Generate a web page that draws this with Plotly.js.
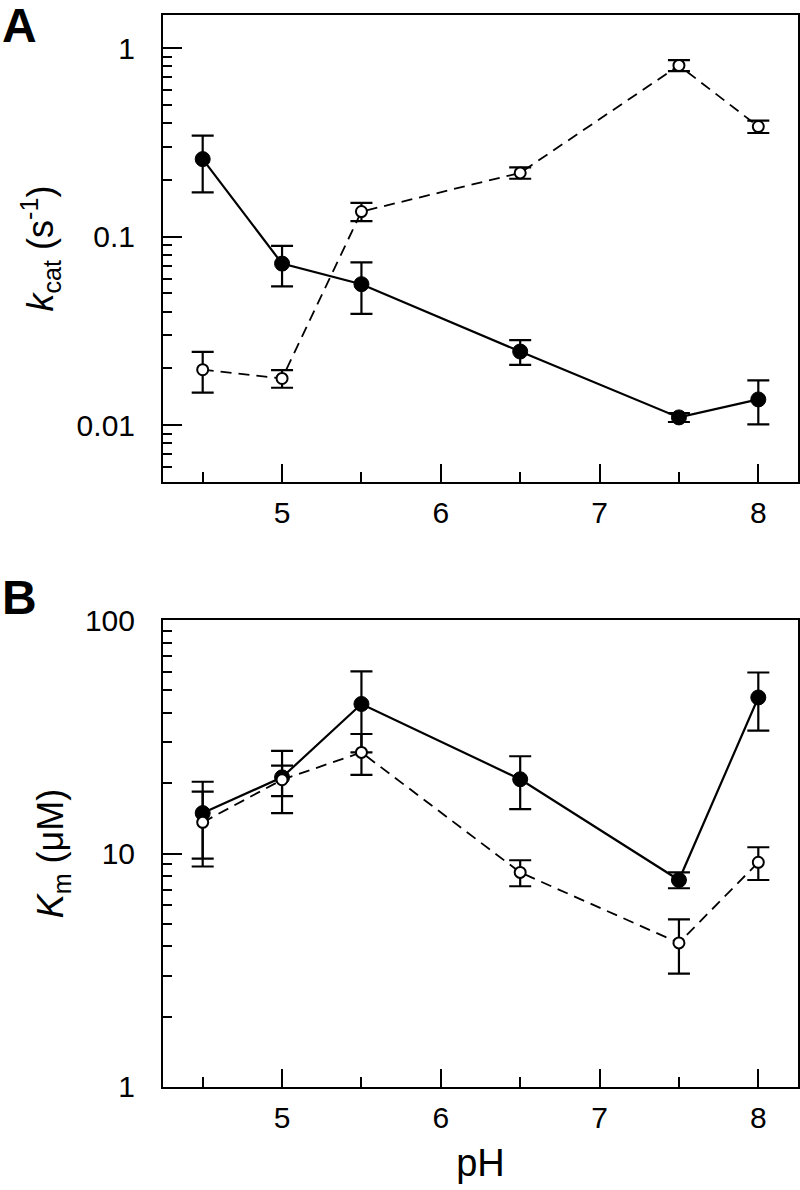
<!DOCTYPE html>
<html>
<head>
<meta charset="utf-8">
<script src="https://cdn.plot.ly/plotly-3.0.1.min.js"></script>
<style>
html,body{margin:0;padding:0;background:#fff;}
#chart{width:800px;height:1190px;}
</style>
</head>
<body>
<div id="chart"></div>
<script>
// pH values
const pH = [4.5, 5.0, 5.5, 6.5, 7.5, 8.0];

// Panel A: kcat (s^-1)
const kcatFilled    = [0.258, 0.072, 0.056, 0.0246, 0.011, 0.0137];
const kcatFilledErr = [0.086, 0.0175, 0.017, 0.0037, 0.0006, 0.0036];
const kcatOpen      = [0.0197, 0.0177, 0.136, 0.218, 0.81, 0.384];
const kcatOpenErr   = [0.0048, 0.0019, 0.015, 0.015, 0.055, 0.029];

// Panel B: Km (uM)
const kmFilled    = [14.9, 21.2, 43.7, 20.8, 7.7, 46.6];
const kmFilledErr = [5.4, 6.3, 16.6, 5.3, 0.6, 13.0];
const kmOpen      = [13.6, 20.7, 27.1, 8.3, 4.14, 9.17];
const kmOpenErr   = [4.8, 3.1, 5.4, 1.06, 1.08, 1.47];

// tick labels
const kcatTickVals = [0.01, 0.1, 1];
const kcatTickText = ['0.01', '0.1', '1'];
const kmTickVals = [1, 10, 100];
const kmTickText = ['1', '10', '100'];

const FONT = 'Liberation Sans, Arial, Helvetica, sans-serif';

function errBar(arr) {
  return {type: 'data', array: arr, visible: true, color: '#000', thickness: 2.2, width: 11};
}
function filledTrace(y, e, xa, ya) {
  return {
    x: pH, y: y, xaxis: xa, yaxis: ya, type: 'scatter', mode: 'lines+markers',
    line: {color: '#000', width: 2.2, dash: 'solid'},
    marker: {symbol: 'circle', size: 15, color: '#000', line: {color: '#000', width: 1}},
    error_y: errBar(e), showlegend: false, cliponaxis: false
  };
}
function openTrace(y, e, xa, ya) {
  return {
    x: pH, y: y, xaxis: xa, yaxis: ya, type: 'scatter', mode: 'lines+markers',
    line: {color: '#000', width: 1.8, dash: '11px,7px'},
    marker: {symbol: 'circle', size: 11, color: '#fff', line: {color: '#000', width: 2}},
    error_y: errBar(e), showlegend: false, cliponaxis: false
  };
}

const data = [
  filledTrace(kcatFilled, kcatFilledErr, 'x', 'y'),
  openTrace(kcatOpen, kcatOpenErr, 'x', 'y'),
  filledTrace(kmFilled, kmFilledErr, 'x2', 'y2'),
  openTrace(kmOpen, kmOpenErr, 'x2', 'y2')
];

function xAxis(anchor, title) {
  const ax = {
    anchor: anchor, domain: [0, 1], range: [4.25, 8.25],
    tickmode: 'linear', tick0: 0, dtick: 1,
    ticks: 'inside', ticklen: 18, tickwidth: 2, tickcolor: '#000',
    minor: {ticks: 'inside', ticklen: 10, tickwidth: 2, tickcolor: '#000', dtick: 0.5, tick0: 0, showgrid: false},
    showline: true, linecolor: '#000', linewidth: 2, mirror: true,
    showgrid: false, zeroline: false,
    tickfont: {family: FONT, size: 30, color: '#000'},
    ticklabelstandoff: 3
  };
  if (title) ax.title = {text: title, font: {family: FONT, size: 38, color: '#000'}, standoff: 16};
  return ax;
}
function yAxis(anchor, domain, range, tv, tt, title, standoff) {
  return {
    anchor: anchor, domain: domain, type: 'log', range: range,
    tickmode: 'array', tickvals: tv, ticktext: tt,
    ticks: 'inside', ticklen: 19, tickwidth: 2, tickcolor: '#000',
    minor: {ticks: 'inside', ticklen: 9, tickwidth: 2, tickcolor: '#000', dtick: 'D1', showgrid: false},
    showline: true, linecolor: '#000', linewidth: 2, mirror: true,
    showgrid: false, zeroline: false,
    tickfont: {family: FONT, size: 30, color: '#000'},
    ticklabelstandoff: 20,
    title: {text: title, font: {family: FONT, size: 36, color: '#000'}, standoff: standoff}
  };
}

const pxToPaperX = function(px) { return (px - 163) / 635; };
const pxToPaperY = function(py) { return (1087 - py) / 1072; };

const layout = {
  width: 800, height: 1190,
  margin: {l: 163, r: 2, t: 15, b: 103},
  paper_bgcolor: '#fff', plot_bgcolor: '#fff',
  showlegend: false,
  xaxis: xAxis('y', null),
  yaxis: yAxis('x', [0.5644, 1], [Math.log10(0.005), Math.log10(1.5)], kcatTickVals, kcatTickText,
               '<i>k</i><sub>cat</sub> (s<sup>-1</sup>)', 12),
  xaxis2: xAxis('y2', 'pH'),
  yaxis2: yAxis('x2', [0, 0.4356], [0, 2], kmTickVals, kmTickText,
                '<i>K</i><sub>m</sub> (μM)', 10),
  annotations: [
    {text: '<b>A</b>', xref: 'paper', yref: 'paper', x: pxToPaperX(0), y: pxToPaperY(25),
     xanchor: 'left', yanchor: 'middle', showarrow: false,
     font: {family: FONT, size: 48, color: '#000'}},
    {text: '<b>B</b>', xref: 'paper', yref: 'paper', x: pxToPaperX(0), y: pxToPaperY(597),
     xanchor: 'left', yanchor: 'middle', showarrow: false,
     font: {family: FONT, size: 48, color: '#000'}}
  ]
};

Plotly.newPlot('chart', data, layout, {displayModeBar: false, staticPlot: true});
</script>
</body>
</html>
